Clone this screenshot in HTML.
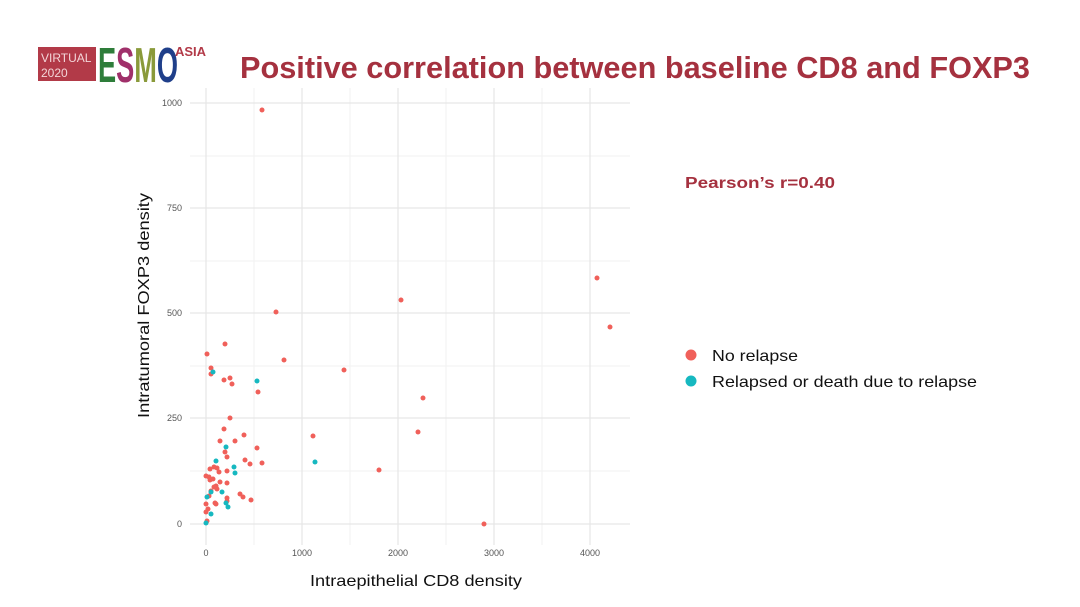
<!DOCTYPE html>
<html><head><meta charset="utf-8"><style>
body{margin:0;background:#fff;font-family:"Liberation Sans",sans-serif;}
</style></head><body>
<svg width="1080" height="607" xmlns="http://www.w3.org/2000/svg" style="display:block">
<rect width="1080" height="607" fill="#fff"/>
<rect x="38" y="47" width="58" height="34" fill="#b23a48"/>
<text x="41" y="62" font-size="12" fill="#f3d5d8" font-family="Liberation Sans">VIRTUAL</text>
<text x="41" y="77" font-size="12" fill="#f3d5d8" font-family="Liberation Sans">2020</text>
<text x="98" y="82" font-size="44" font-weight="bold" font-family="Liberation Sans" textLength="80" lengthAdjust="spacingAndGlyphs" transform="translate(0,-10) scale(1,1.12)"><tspan fill="#2e7d3a">E</tspan><tspan fill="#a0306a">S</tspan><tspan fill="#8a9a3a">M</tspan><tspan fill="#1f3f8a">O</tspan></text>
<text x="175" y="56" font-size="13" font-weight="bold" fill="#b23a48" font-family="Liberation Sans">ASIA</text>
<text x="240" y="78" font-size="31" font-weight="bold" fill="#a5313f" font-family="Liberation Sans" textLength="790" lengthAdjust="spacingAndGlyphs">Positive correlation between baseline CD8 and FOXP3</text>
<g stroke="#f2f2f2" stroke-width="1">
<line x1="254" y1="88" x2="254" y2="545"/><line x1="350" y1="88" x2="350" y2="545"/><line x1="446" y1="88" x2="446" y2="545"/><line x1="542" y1="88" x2="542" y2="545"/>
<line x1="190" y1="156" x2="630" y2="156"/><line x1="190" y1="261" x2="630" y2="261"/><line x1="190" y1="366" x2="630" y2="366"/><line x1="190" y1="471" x2="630" y2="471"/>
</g>
<g stroke="#e6e6e6" stroke-width="1.2">
<line x1="206" y1="88" x2="206" y2="545"/><line x1="302" y1="88" x2="302" y2="545"/><line x1="398" y1="88" x2="398" y2="545"/><line x1="494" y1="88" x2="494" y2="545"/><line x1="590" y1="88" x2="590" y2="545"/>
<line x1="190" y1="103" x2="630" y2="103"/><line x1="190" y1="208" x2="630" y2="208"/><line x1="190" y1="313" x2="630" y2="313"/><line x1="190" y1="418" x2="630" y2="418"/><line x1="190" y1="524" x2="630" y2="524"/>
</g>
<g font-size="9" fill="#555" font-family="Liberation Sans" text-anchor="end">
<text x="182" y="106">1000</text><text x="182" y="211">750</text><text x="182" y="316">500</text><text x="182" y="421">250</text><text x="182" y="527">0</text>
</g>
<g font-size="9" fill="#555" font-family="Liberation Sans" text-anchor="middle">
<text x="206" y="556">0</text><text x="302" y="556">1000</text><text x="398" y="556">2000</text><text x="494" y="556">3000</text><text x="590" y="556">4000</text>
</g>
<text x="310" y="586" font-size="16" fill="#111" font-family="Liberation Sans" textLength="212" lengthAdjust="spacingAndGlyphs">Intraepithelial CD8 density</text>
<text transform="translate(149,418) rotate(-90)" font-size="16" fill="#111" font-family="Liberation Sans" textLength="225" lengthAdjust="spacingAndGlyphs">Intratumoral FOXP3 density</text>
<g fill="#f0605a">
<circle cx="262" cy="110" r="2.5"/><circle cx="597" cy="278" r="2.5"/><circle cx="610" cy="327" r="2.5"/><circle cx="401" cy="300" r="2.5"/><circle cx="276" cy="312" r="2.5"/><circle cx="423" cy="398" r="2.5"/><circle cx="418" cy="432" r="2.5"/><circle cx="484" cy="524" r="2.5"/>
<circle cx="225" cy="344" r="2.5"/><circle cx="207" cy="354" r="2.5"/><circle cx="211" cy="368" r="2.5"/><circle cx="211" cy="374" r="2.5"/><circle cx="224" cy="380" r="2.5"/><circle cx="230" cy="378" r="2.5"/><circle cx="232" cy="384" r="2.5"/><circle cx="258" cy="392" r="2.5"/><circle cx="284" cy="360" r="2.5"/><circle cx="344" cy="370" r="2.5"/><circle cx="230" cy="418" r="2.5"/><circle cx="224" cy="429" r="2.5"/><circle cx="220" cy="441" r="2.5"/><circle cx="235" cy="441" r="2.5"/><circle cx="244" cy="435" r="2.5"/><circle cx="313" cy="436" r="2.5"/><circle cx="257" cy="448" r="2.5"/><circle cx="225" cy="452" r="2.5"/><circle cx="227" cy="457" r="2.5"/><circle cx="245" cy="460" r="2.5"/><circle cx="250" cy="464" r="2.5"/><circle cx="262" cy="463" r="2.5"/><circle cx="379" cy="470" r="2.5"/><circle cx="217" cy="468" r="2.5"/><circle cx="214" cy="467" r="2.5"/><circle cx="210" cy="469" r="2.5"/><circle cx="206" cy="476" r="2.5"/><circle cx="209" cy="477" r="2.5"/><circle cx="210" cy="480" r="2.5"/><circle cx="213" cy="479" r="2.5"/><circle cx="219" cy="472" r="2.5"/><circle cx="220" cy="482" r="2.5"/><circle cx="216" cy="486" r="2.5"/><circle cx="214" cy="487" r="2.5"/><circle cx="217" cy="489" r="2.5"/><circle cx="211" cy="491" r="2.5"/><circle cx="227" cy="471" r="2.5"/><circle cx="240" cy="494" r="2.5"/><circle cx="243" cy="497" r="2.5"/><circle cx="251" cy="500" r="2.5"/><circle cx="227" cy="498" r="2.5"/><circle cx="227" cy="501" r="2.5"/><circle cx="209" cy="496" r="2.5"/><circle cx="206" cy="504" r="2.5"/><circle cx="215" cy="503" r="2.5"/><circle cx="216" cy="504" r="2.5"/><circle cx="208" cy="509" r="2.5"/><circle cx="206" cy="512" r="2.5"/><circle cx="207" cy="521" r="2.5"/><circle cx="227" cy="483" r="2.5"/>
</g>
<g fill="#16b8c0">
<circle cx="213" cy="372" r="2.5"/><circle cx="257" cy="381" r="2.5"/><circle cx="226" cy="447" r="2.5"/><circle cx="216" cy="461" r="2.5"/><circle cx="234" cy="467" r="2.5"/><circle cx="235" cy="473" r="2.5"/><circle cx="315" cy="462" r="2.5"/><circle cx="222" cy="492" r="2.5"/><circle cx="211" cy="492" r="2.5"/><circle cx="207" cy="497" r="2.5"/><circle cx="226" cy="503" r="2.5"/><circle cx="228" cy="507" r="2.5"/><circle cx="211" cy="514" r="2.5"/><circle cx="206" cy="523" r="2.5"/>
</g>
<text x="685" y="188" font-size="16" font-weight="bold" fill="#a5313f" font-family="Liberation Sans" textLength="150" lengthAdjust="spacingAndGlyphs">Pearson’s r=0.40</text>
<circle cx="691" cy="355" r="5.5" fill="#f0605a"/>
<circle cx="691" cy="381" r="5.5" fill="#16b8c0"/>
<text x="712" y="361" font-size="16" fill="#111" font-family="Liberation Sans" textLength="86" lengthAdjust="spacingAndGlyphs">No relapse</text>
<text x="712" y="387" font-size="16" fill="#111" font-family="Liberation Sans" textLength="265" lengthAdjust="spacingAndGlyphs">Relapsed or death due to relapse</text>
</svg>
</body></html>
